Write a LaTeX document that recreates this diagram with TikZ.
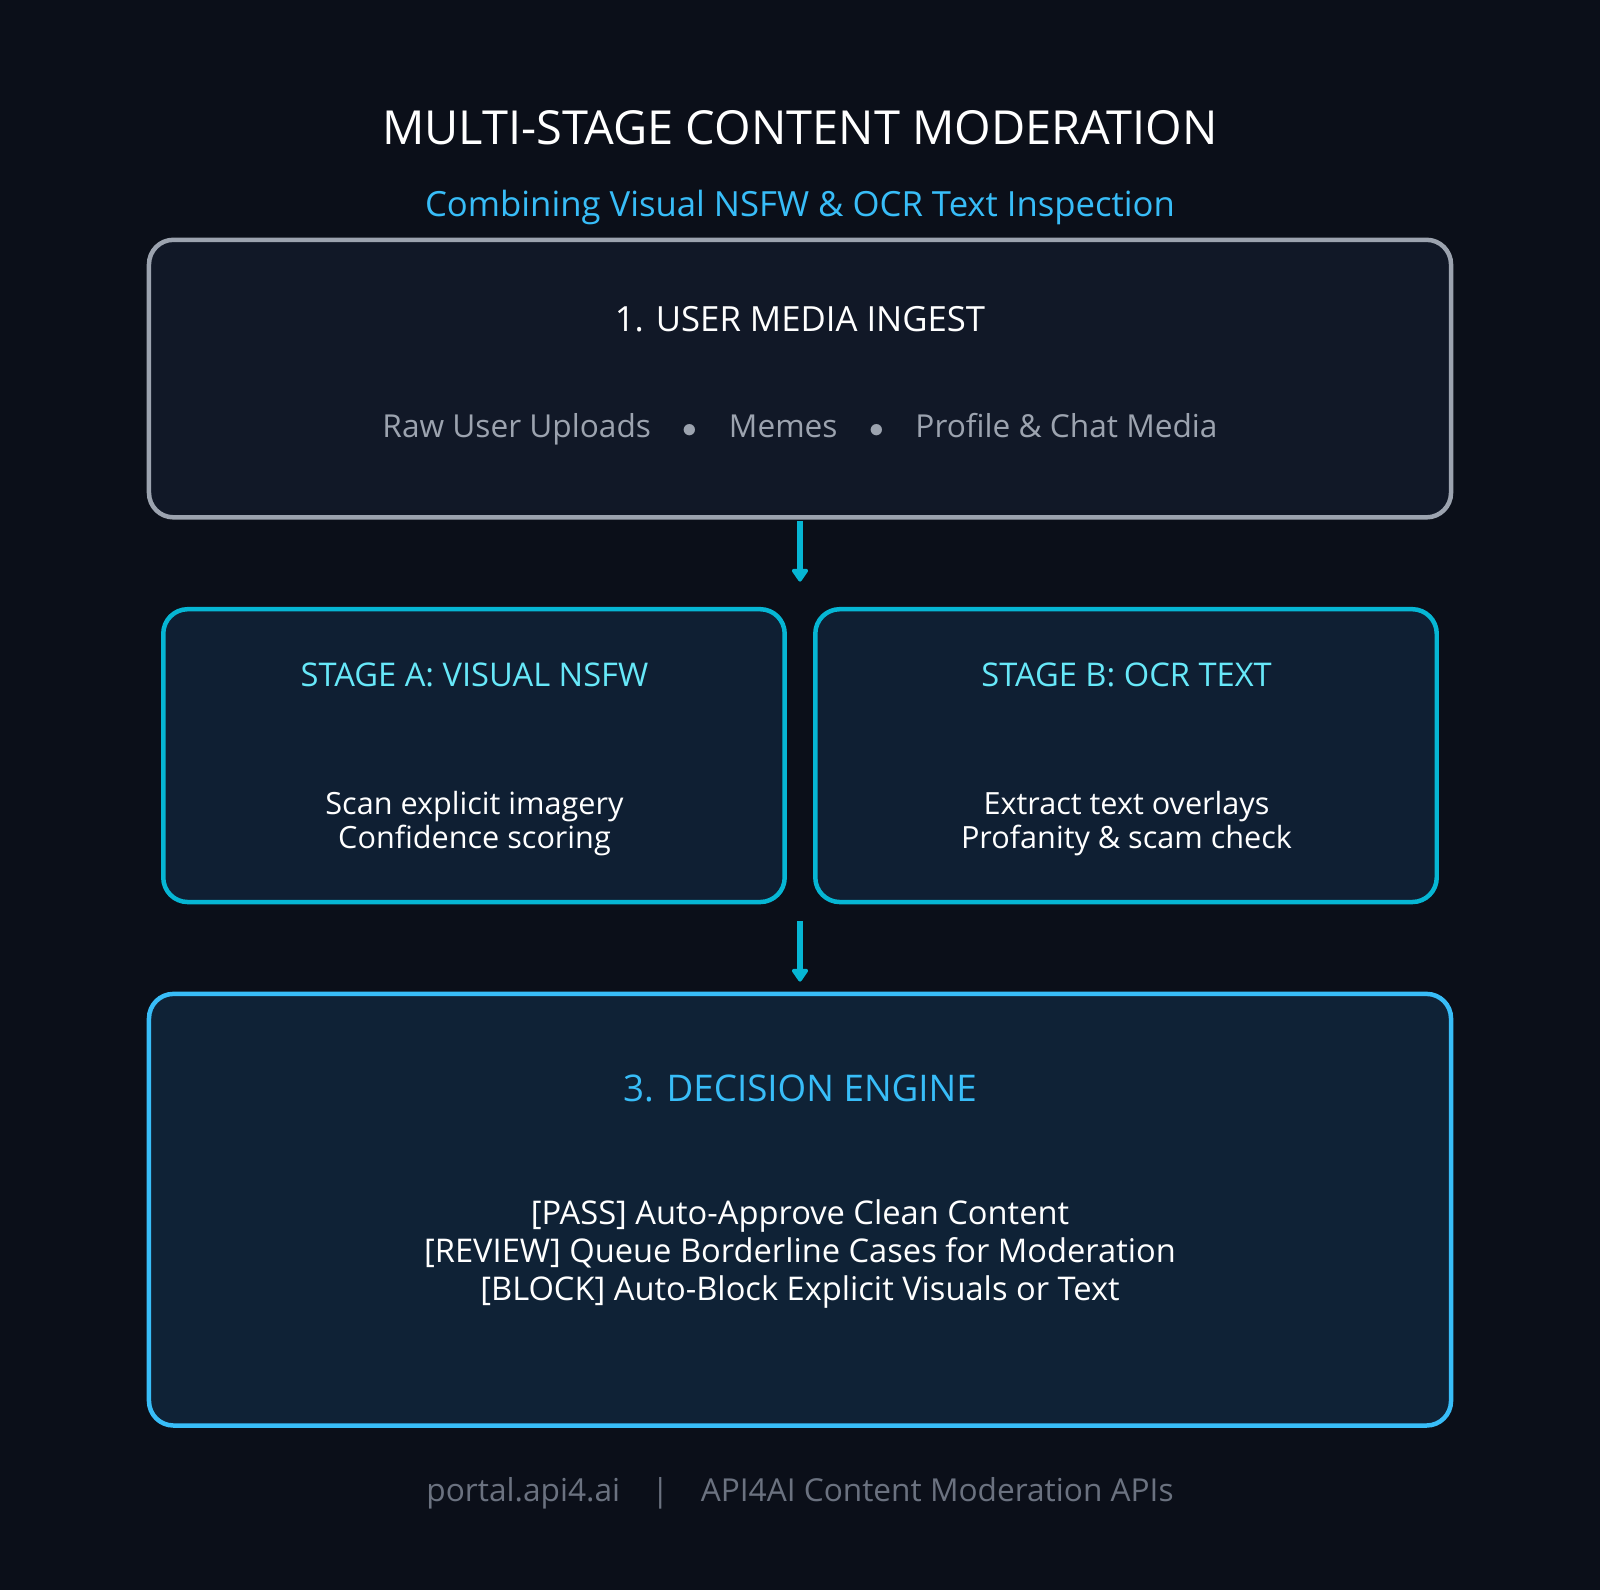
\documentclass[tikz,border=0pt]{standalone}
\usepackage{fontspec}
\setmainfont{Open Sans}
\usetikzlibrary{arrows.meta}
\definecolor{bg}{HTML}{0B0F19}
\definecolor{ingfill}{HTML}{111827}
\definecolor{ingborder}{HTML}{9CA3AF}
\definecolor{stfill}{HTML}{0F1F33}
\definecolor{cyanb}{HTML}{06B6D4}
\definecolor{skyb}{HTML}{38BDF8}
\definecolor{decfill}{HTML}{0F2236}
\definecolor{stitle}{HTML}{67E8F9}
\definecolor{grayt}{HTML}{9CA3AF}
\definecolor{foot}{HTML}{6B7280}
\begin{document}
\begin{tikzpicture}[x=0.5pt,y=-0.5pt,
  box/.style={rounded corners=12pt,line width=2.2pt},
  arr/.style={cyanb,line width=3pt,-{Triangle[length=7pt,width=9pt,round]}},
  t/.style={inner sep=0pt,align=center}]
\fill[bg] (0,0) rectangle (1568,1558);
\useasboundingbox (0,0) rectangle (1568,1558);
\node[t,white,font=\fontsize{23}{28}\selectfont] (title) at (784,125) {MULTI-STAGE CONTENT MODERATION};
\node[t,skyb,font=\fontsize{17}{21}\selectfont] (sub) at (784,203) {Combining Visual NSFW \& OCR Text Inspection};
\draw[box,ingborder,fill=ingfill] (146,235) rectangle (1422,507);
\node[t,white,font=\fontsize{17}{21}\selectfont] (t1) at (784,313) {1. USER MEDIA INGEST};
\node[t,grayt,font=\fontsize{15.5}{19}\selectfont] (i1) at (784,421) {Raw User Uploads\quad$\bullet$\quad Memes\quad$\bullet$\quad Profile \& Chat Media};
\draw[box,cyanb,fill=stfill] (160,597) rectangle (769,884);
\draw[box,cyanb,fill=stfill] (799,597) rectangle (1408,884);
\node[t,stitle,font=\fontsize{16}{20}\selectfont] (ta) at (465,661) {STAGE A: VISUAL NSFW};
\node[t,white,font=\fontsize{15}{17}\selectfont] (ba) at (465,807) {Scan explicit imagery\\Confidence scoring};
\node[t,stitle,font=\fontsize{16}{20}\selectfont] (tb) at (1104,661) {STAGE B: OCR TEXT};
\node[t,white,font=\fontsize{15}{17}\selectfont] (bb) at (1104,807) {Extract text overlays\\Profanity \& scam check};
\draw[box,skyb,fill=decfill] (146,974) rectangle (1422,1397);
\node[t,skyb,font=\fontsize{18}{22}\selectfont] (td) at (784,1067) {3. DECISION ENGINE};
\node[t,white,font=\fontsize{16}{18.5}\selectfont] (bd) at (784,1229) {{[PASS]} Auto-Approve Clean Content\\{[REVIEW]} Queue Borderline Cases for Moderation\\{[BLOCK]} Auto-Block Explicit Visuals or Text};
\node[t,foot,font=\fontsize{15.5}{19}\selectfont] (ft) at (784,1463) {portal.api4.ai\quad|\quad API4AI Content Moderation APIs};
\coordinate (a1s) at (784,511); \coordinate (a1e) at (784,570);
\coordinate (a2s) at (784,903); \coordinate (a2e) at (784,962);
\draw[arr] (a1s) -- (a1e);
\draw[arr] (a2s) -- (a2e);
\end{tikzpicture}
\end{document}
